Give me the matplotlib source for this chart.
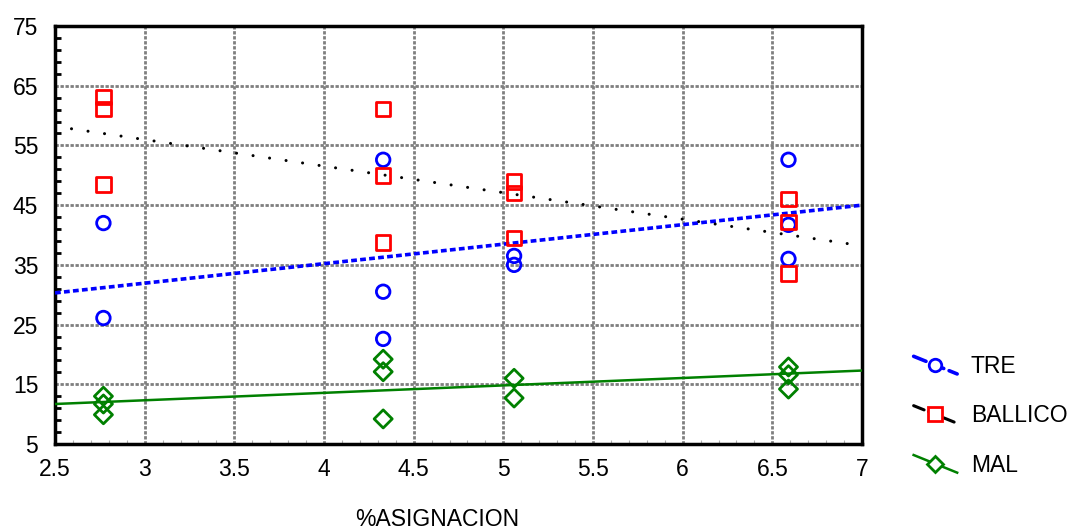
import matplotlib
matplotlib.use("Agg")
import matplotlib.pyplot as plt
from matplotlib.lines import Line2D
from matplotlib.ticker import MultipleLocator, FixedLocator
from matplotlib.legend_handler import HandlerBase

plt.rcParams['font.family'] = ['Liberation Sans', 'DejaVu Sans']

# ---- data ----
tre_x = [2.77, 2.77, 4.33, 4.33, 4.33, 5.06, 5.06, 6.59, 6.59, 6.59]
tre_y = [42.0, 26.1, 52.6, 30.5, 22.6, 36.5, 35.0, 52.6, 41.7, 36.0]

ballico_x = [2.77, 2.77, 2.77, 4.33, 4.33, 4.33, 5.06, 5.06, 5.06, 6.59, 6.59, 6.59]
ballico_y = [63.1, 61.1, 48.5, 61.1, 50.0, 38.7, 49.0, 47.0, 39.5, 46.0, 42.2, 33.6]

mal_x = [2.77, 2.77, 2.77, 4.33, 4.33, 4.33, 5.06, 5.06, 6.59, 6.59, 6.59]
mal_y = [13.0, 11.7, 9.9, 19.2, 17.1, 9.2, 16.0, 12.7, 17.9, 16.6, 14.2]

fit_x = [2.5, 7.0]
tre_fit = [30.3, 45.0]
ballico_fit = [58.2, 38.2]
mal_fit = [11.7, 17.3]

y_ticks = [5, 15, 25, 35, 45, 55, 65, 75]
series_names = ["TRE", "BALLICO", "MAL"]
xlabel = "%ASIGNACION"

FS = 16.5

# ---- figure ----
fig = plt.figure(figsize=(10.87, 5.29), dpi=100)
ax = fig.add_axes([55/1087, 1-444/529, (862-55)/1087, (444-26)/529])

ax.set_xlim(2.5, 7)
ax.set_ylim(5, 75)
ax.xaxis.set_major_locator(MultipleLocator(0.5))
ax.xaxis.set_minor_locator(MultipleLocator(0.1))
ax.yaxis.set_major_locator(FixedLocator(y_ticks))
ax.yaxis.set_minor_locator(FixedLocator(list(range(7, 75, 2))))
ax.grid(True, which='major', color='#7f7f7f', linestyle=(0, (1.2, 0.6)), linewidth=2.0)
ax.set_axisbelow(True)

ax.tick_params(axis='both', which='major', direction='in', length=0, labelsize=FS,
               top=False, right=False)
ax.tick_params(axis='y', which='minor', direction='in', length=4, width=2, left=True, right=False)
ax.tick_params(axis='x', which='minor', direction='in', length=3, width=0.8, colors='#b0b0b0')
ax.tick_params(axis='x', which='major', pad=10)
ax.tick_params(axis='y', which='major', pad=12)

for s in ax.spines.values():
    s.set_linewidth(2.5)

ax.xaxis.set_major_formatter(matplotlib.ticker.FuncFormatter(lambda v, p: f"{v:g}"))

# fit lines
tre_ls = (0, (1.6, 0.9))
bal_ls = (0, (0.01, 5.45))
ax.plot(fit_x, tre_fit, color='#0000ff', linestyle=tre_ls, linewidth=2.6, zorder=3)
ax.plot(fit_x, ballico_fit, color='black', linestyle=bal_ls, linewidth=2.2,
        dash_capstyle='round', zorder=3)
ax.plot(fit_x, mal_fit, color='#008000', linestyle='-', linewidth=1.8, zorder=3)

# points
ax.scatter(tre_x, tre_y, s=95, facecolors='none', edgecolors='#0000ff', linewidths=2.0, marker='o', zorder=4)
ax.scatter(ballico_x, ballico_y, s=110, facecolors='none', edgecolors='#ff0000', linewidths=2.0, marker='s', zorder=5)
ax.scatter(mal_x, mal_y, s=85, facecolors='none', edgecolors='#008000', linewidths=2.0, marker='D', zorder=4)

ax.set_xlabel(xlabel, fontsize=FS)
ax.xaxis.label.set_va('center')
ax.xaxis.set_label_coords((437-55)/807, -(519-444)/418)


class SlopedHandler(HandlerBase):
    def create_artists(self, legend, orig_handle, xdescent, ydescent, width, height,
                       fontsize, trans):
        x0 = -xdescent
        x1 = -xdescent + width
        yc = -ydescent + height / 2
        dy = height * 0.55
        line = Line2D([x0, x1], [yc + dy, yc - dy], color=orig_handle.get_color(),
                      linestyle=orig_handle.get_linestyle(), linewidth=orig_handle.get_linewidth(),
                      dash_capstyle='round')
        mk = Line2D([(x0 + x1) / 2], [yc], marker=orig_handle.get_marker(),
                    markersize=orig_handle.get_markersize(), markerfacecolor='white',
                    markeredgecolor=orig_handle.get_markeredgecolor(),
                    markeredgewidth=orig_handle.get_markeredgewidth(), linestyle='none')
        line.set_transform(trans)
        mk.set_transform(trans)
        return [line, mk]


handles = [
    Line2D([], [], color='#0000ff', linestyle=(0, (1.6, 2.2)), linewidth=2.6,
           marker='o', markersize=9, markeredgecolor='#0000ff', markeredgewidth=2),
    Line2D([], [], color='black', linestyle=(0, (1.5, 3)), linewidth=2.2,
           marker='s', markersize=10, markeredgecolor='#ff0000', markeredgewidth=2),
    Line2D([], [], color='#008000', linestyle='-', linewidth=1.8,
           marker='D', markersize=8, markeredgecolor='#008000', markeredgewidth=2),
]
fig.legend(handles, series_names, loc='center left', bbox_to_anchor=(893/1087, 1-416/529),
           frameon=False, fontsize=FS, handlelength=1.9, labelspacing=1.15, handletextpad=0.6,
           handler_map={Line2D: SlopedHandler()})

fig.savefig("out.png", dpi=100)
